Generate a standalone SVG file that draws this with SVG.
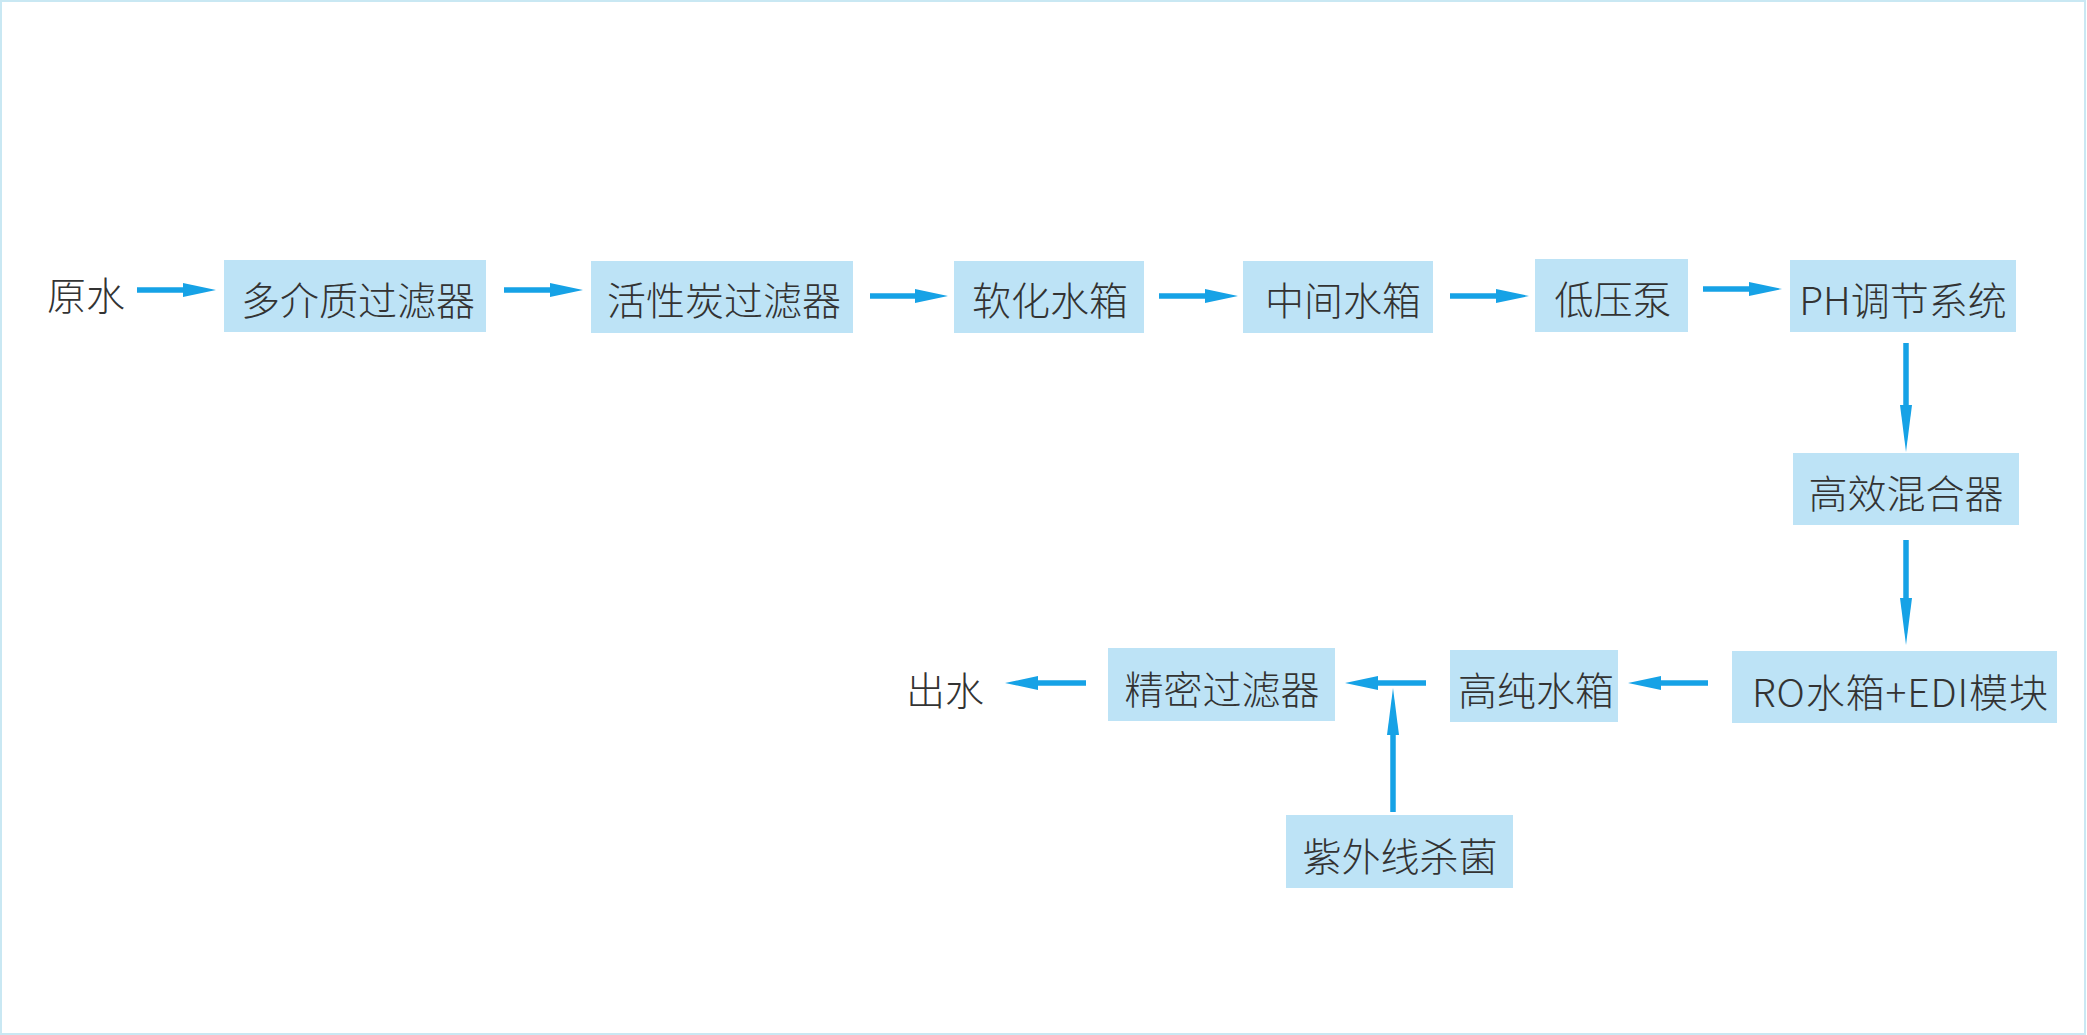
<svg xmlns="http://www.w3.org/2000/svg" width="2087" height="1035" viewBox="0 0 2087 1035">
<style>
.bg{fill:#ffffff;stroke:#c9e8f3;stroke-width:2}
.box{fill:#bde3f6}
.t{font-family:"Noto Sans CJK SC","Noto Sans",sans-serif;font-size:39px;font-weight:300;fill:#333333;text-anchor:middle;dominant-baseline:central}
.arr{stroke:#16a2e6;stroke-width:5.5;fill:none}
.h{marker-end:url(#ah)}
.v{marker-end:url(#av)}
</style>
<defs>
<marker id="ah" markerUnits="userSpaceOnUse" markerWidth="33" markerHeight="14" refX="2" refY="7" orient="auto" viewBox="0 0 33 14">
<path d="M0,0 L33,7 L0,14 z" fill="#16a2e6"/>
</marker>
<marker id="av" markerUnits="userSpaceOnUse" markerWidth="47" markerHeight="12" refX="2" refY="6" orient="auto" viewBox="0 0 47 12">
<path d="M0,0 L47,6 L0,12 z" fill="#16a2e6"/>
</marker>
</defs>
<rect class="bg" x="1" y="1" width="2084" height="1033"/>
<g id="connectors">
<line class="arr h" x1="137" y1="290" x2="185" y2="290"/>
<line class="arr h" x1="504" y1="290" x2="552" y2="290"/>
<line class="arr h" x1="870" y1="296" x2="917" y2="296"/>
<line class="arr h" x1="1159" y1="296" x2="1207" y2="296"/>
<line class="arr h" x1="1450" y1="296" x2="1498" y2="296"/>
<line class="arr h" x1="1703" y1="289" x2="1751" y2="289"/>
<line class="arr v" x1="1906" y1="343" x2="1906" y2="407"/>
<line class="arr v" x1="1906" y1="540" x2="1906" y2="600"/>
<line class="arr h" x1="1708" y1="683" x2="1659" y2="683"/>
<line class="arr h" x1="1426" y1="683" x2="1376" y2="683"/>
<line class="arr h" x1="1086" y1="683" x2="1036" y2="683"/>
<line class="arr v" x1="1393" y1="812" x2="1393" y2="733"/>
</g>
<g id="n-raw"><text class="t" x="86" y="293">原水</text></g>
<g id="n1"><rect class="box" x="224" y="260" width="262" height="72"/><text class="t" x="358" y="298">多介质过滤器</text></g>
<g id="n2"><rect class="box" x="591" y="261" width="262" height="72"/><text class="t" x="724" y="298">活性炭过滤器</text></g>
<g id="n3"><rect class="box" x="954" y="261" width="190" height="72"/><text class="t" x="1050" y="298">软化水箱</text></g>
<g id="n4"><rect class="box" x="1243" y="261" width="190" height="72"/><text class="t" x="1343" y="298">中间水箱</text></g>
<g id="n5"><rect class="box" x="1535" y="259" width="153" height="73"/><text class="t" x="1613" y="297">低压泵</text></g>
<g id="n6"><rect class="box" x="1790" y="260" width="226" height="72"/><text class="t" x="1903" y="298">PH调节系统</text></g>
<g id="n7"><rect class="box" x="1793" y="453" width="226" height="72"/><text class="t" x="1906" y="491">高效混合器</text></g>
<g id="n8"><rect class="box" x="1732" y="651" width="325" height="72"/><text class="t" x="1900" y="690" textLength="296" lengthAdjust="spacing">RO水箱+EDI模块</text></g>
<g id="n9"><rect class="box" x="1450" y="650" width="168" height="72"/><text class="t" x="1536" y="688">高纯水箱</text></g>
<g id="n10"><rect class="box" x="1108" y="648" width="227" height="73"/><text class="t" x="1222" y="687">精密过滤器</text></g>
<g id="n11"><rect class="box" x="1286" y="815" width="227" height="73"/><text class="t" x="1400" y="854">紫外线杀菌</text></g>
<g id="n-out"><text class="t" x="945" y="688">出水</text></g>
</svg>
